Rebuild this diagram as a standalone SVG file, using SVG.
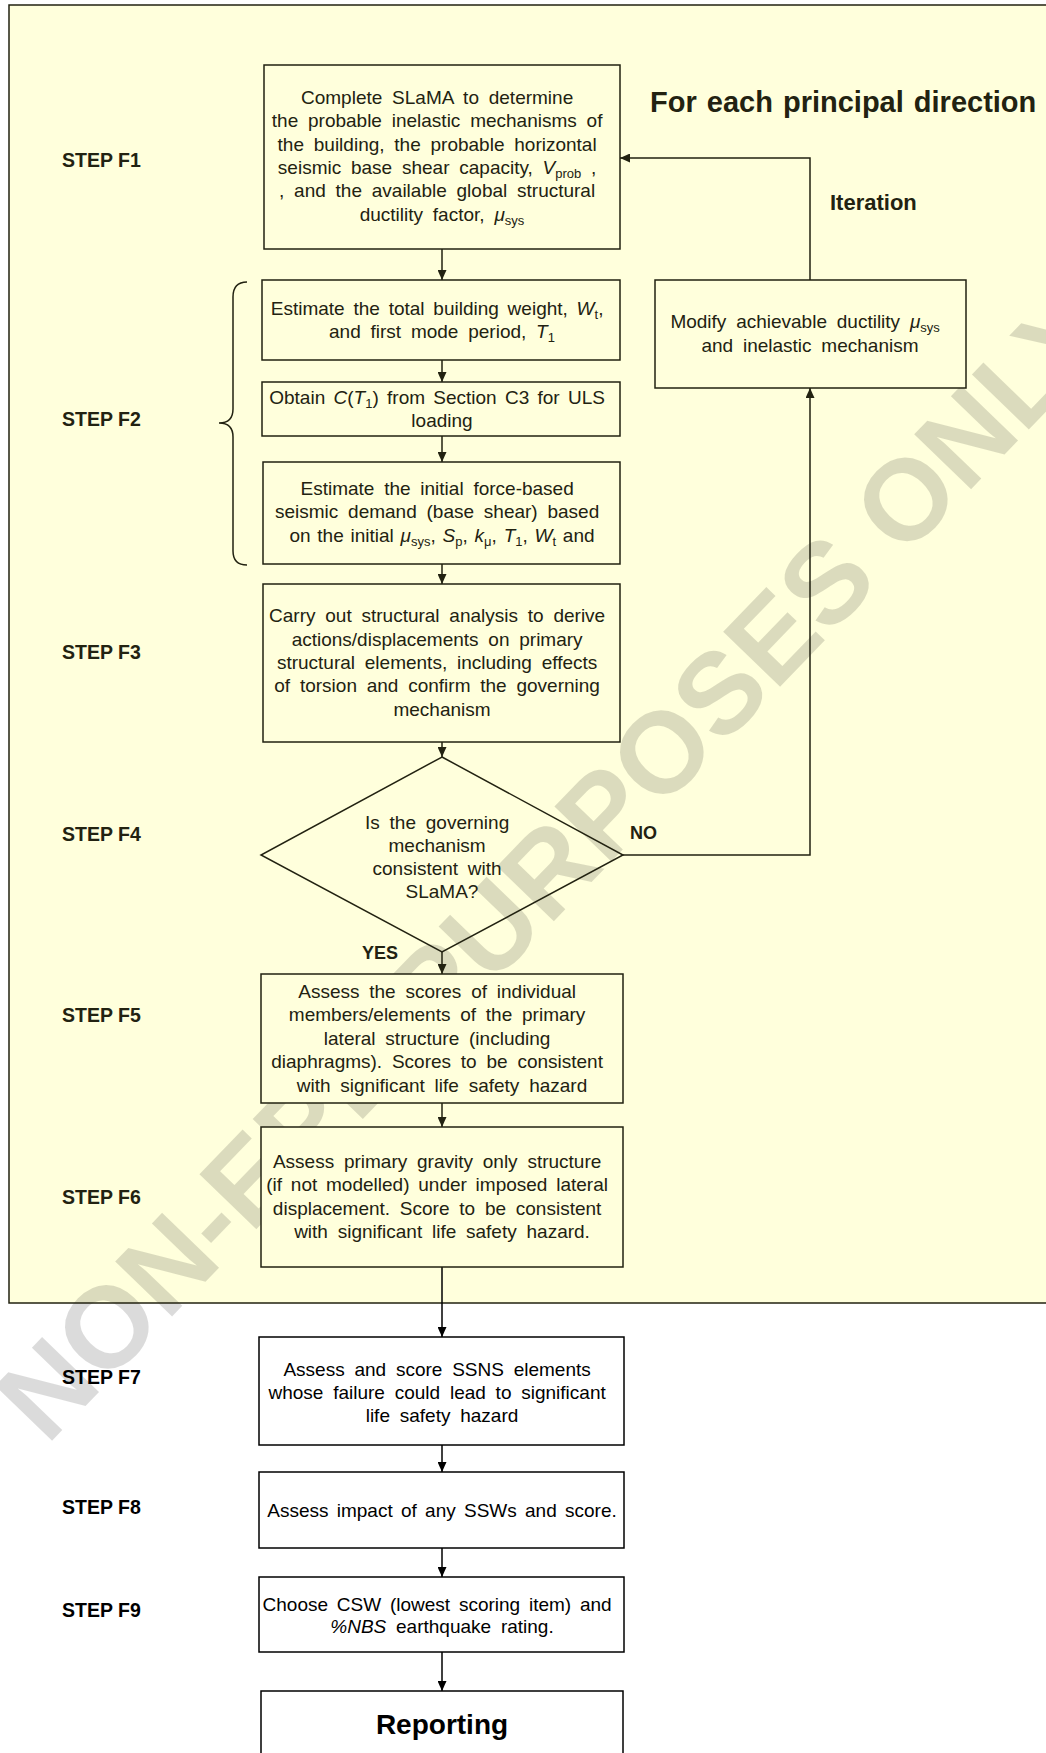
<svg xmlns="http://www.w3.org/2000/svg" width="1046" height="1753" viewBox="0 0 1046 1753">
<defs>
<marker id="ah" markerWidth="10" markerHeight="9" refX="10" refY="4.5" orient="auto" markerUnits="userSpaceOnUse"><path d="M0,0 L10,4.5 L0,9 z" fill="#222211"/></marker>
<marker id="ahk" markerWidth="10" markerHeight="9" refX="10" refY="4.5" orient="auto" markerUnits="userSpaceOnUse"><path d="M0,0 L10,4.5 L0,9 z" fill="#000"/></marker>
</defs>
<style>
.t{font-family:"Liberation Sans",Arial,sans-serif;font-size:19px;fill:#222211;text-anchor:middle;word-spacing:4.5px}
.k{fill:#000}
.s{font-size:13px;word-spacing:0}
.i{font-style:italic}
.lb{font-family:"Liberation Sans",Arial,sans-serif;font-weight:bold;fill:#222211}
.step{font-size:19.5px}
.box{fill:#ffffdc;stroke:#222211;stroke-width:1.5}
.wbox{fill:#fff;stroke:#000;stroke-width:1.5}
.c{fill:none;stroke:#222211;stroke-width:1.5}
.ck{fill:none;stroke:#000;stroke-width:1.5}
</style>
<rect x="0" y="0" width="1046" height="1753" fill="#fff"/>
<rect x="9" y="5" width="1050" height="1298" fill="#ffffdc"/>
<text x="0" y="41" transform="translate(553 863) rotate(-46)" font-family="Liberation Sans, Arial, sans-serif" font-size="115" font-weight="bold" text-anchor="middle" fill="#000" fill-opacity="0.14">NON-EPB PURPOSES ONLY</text>
<rect x="9" y="5" width="1050" height="1298" fill="none" stroke="#222211" stroke-width="1.5"/>

<g id="labels">
<text class="lb" x="650" y="112" font-size="29" word-spacing="2">For each principal direction</text>
<text class="lb" x="830" y="210" font-size="22">Iteration</text>
<text class="lb" x="630" y="839" font-size="18">NO</text>
<text class="lb" x="362" y="959" font-size="18">YES</text>
<text class="lb step" x="62" y="167">STEP F1</text>
<text class="lb step" x="62" y="426">STEP F2</text>
<text class="lb step" x="62" y="659">STEP F3</text>
<text class="lb step" x="62" y="841">STEP F4</text>
<text class="lb step" x="62" y="1022">STEP F5</text>
<text class="lb step" x="62" y="1204">STEP F6</text>
<text class="lb step" x="62" y="1384" style="fill:#000">STEP F7</text>
<text class="lb step" x="62" y="1514" style="fill:#000">STEP F8</text>
<text class="lb step" x="62" y="1617" style="fill:#000">STEP F9</text>
</g>

<g id="connectors">
<path class="c" d="M442,249 V280" marker-end="url(#ah)"/>
<path class="c" d="M442,360 V382" marker-end="url(#ah)"/>
<path class="c" d="M442,436 V462" marker-end="url(#ah)"/>
<path class="c" d="M442,564 V584" marker-end="url(#ah)"/>
<path class="c" d="M442,742 V757" marker-end="url(#ah)"/>
<path class="c" d="M442,952 V974" marker-end="url(#ah)"/>
<path class="c" d="M442,1103 V1127" marker-end="url(#ah)"/>
<path class="ck" d="M442,1267 V1337" marker-end="url(#ahk)"/>
<path class="ck" d="M442,1445 V1472" marker-end="url(#ahk)"/>
<path class="ck" d="M442,1548 V1577" marker-end="url(#ahk)"/>
<path class="ck" d="M442,1652 V1691" marker-end="url(#ahk)"/>
<path class="c" d="M623,855 H810 V388" marker-end="url(#ah)"/>
<path class="c" d="M810,280 V158 H620" marker-end="url(#ah)"/>
<path class="c" d="M247,282 C237,282 233,287 233,297 L233,409 C233,418 228,423 219,423 C228,423 233,428 233,437 L233,551 C233,560 237,565 247,565"/>
</g>

<g id="f1">
<rect class="box" x="264" y="65" width="356" height="184"/>
<text class="t">
<tspan x="442" y="104">Complete SLaMA to determine</tspan>
<tspan x="442" y="127.3">the probable inelastic mechanisms of</tspan>
<tspan x="442" y="150.6">the building, the probable horizontal</tspan>
<tspan x="442" y="174">seismic base shear capacity, <tspan class="i">V</tspan><tspan class="s" dy="4">prob</tspan><tspan dy="-4"> ,</tspan></tspan>
<tspan x="442" y="197.2">, and the available global structural</tspan>
<tspan x="442" y="220.5">ductility factor, <tspan class="i">μ</tspan><tspan class="s" dy="4">sys</tspan></tspan>
</text>
</g>

<g id="f2a">
<rect class="box" x="262" y="280" width="358" height="80"/>
<text class="t">
<tspan x="442" y="315" word-spacing="3.5">Estimate the total building weight, <tspan class="i">W</tspan><tspan class="s" dy="4">t</tspan><tspan dy="-4">,</tspan></tspan>
<tspan x="442" y="338">and first mode period, <tspan class="i">T</tspan><tspan class="s" dy="4">1</tspan></tspan>
</text>
</g>

<g id="f2b">
<rect class="box" x="262" y="382" width="358" height="54"/>
<text class="t">
<tspan x="442" y="404" word-spacing="3">Obtain <tspan class="i">C</tspan>(<tspan class="i">T</tspan><tspan class="s" dy="4">1</tspan><tspan dy="-4">) from Section C3 for ULS</tspan></tspan>
<tspan x="442" y="427">loading</tspan>
</text>
</g>

<g id="f2c">
<rect class="box" x="263" y="462" width="357" height="102"/>
<text class="t">
<tspan x="442" y="495">Estimate the initial force-based</tspan>
<tspan x="442" y="518">seismic demand (base shear) based</tspan>
<tspan x="442" y="542" word-spacing="1.5">on the initial <tspan class="i">μ</tspan><tspan class="s" dy="4">sys</tspan><tspan dy="-4">, </tspan><tspan class="i">S</tspan><tspan class="s" dy="4">p</tspan><tspan dy="-4">, </tspan><tspan class="i">k</tspan><tspan class="s" dy="4">μ</tspan><tspan dy="-4">, </tspan><tspan class="i">T</tspan><tspan class="s" dy="4">1</tspan><tspan dy="-4">, </tspan><tspan class="i">W</tspan><tspan class="s" dy="4">t</tspan><tspan dy="-4"> and</tspan></tspan>
</text>
</g>

<g id="f3">
<rect class="box" x="263" y="584" width="357" height="158"/>
<text class="t">
<tspan x="442" y="622">Carry out structural analysis to derive</tspan>
<tspan x="442" y="646">actions/displacements on primary</tspan>
<tspan x="442" y="669">structural elements, including effects</tspan>
<tspan x="442" y="692">of torsion and confirm the governing</tspan>
<tspan x="442" y="716">mechanism</tspan>
</text>
</g>

<g id="f4">
<path d="M442,757 L623,855 L442,952 L261,855 Z" fill="none" stroke="#222211" stroke-width="1.5"/>
<text class="t">
<tspan x="442" y="829">Is the governing</tspan>
<tspan x="442" y="852">mechanism</tspan>
<tspan x="442" y="875">consistent with</tspan>
<tspan x="442" y="898">SLaMA?</tspan>
</text>
</g>

<g id="modify">
<rect class="box" x="655" y="280" width="311" height="108"/>
<text class="t">
<tspan x="810" y="328">Modify achievable ductility <tspan class="i">μ</tspan><tspan class="s" dy="4">sys</tspan></tspan>
<tspan x="810" y="352">and inelastic mechanism</tspan>
</text>
</g>

<g id="f5">
<rect class="box" x="261" y="974" width="362" height="129"/>
<text class="t">
<tspan x="442" y="998">Assess the scores of individual</tspan>
<tspan x="442" y="1021">members/elements of the primary</tspan>
<tspan x="442" y="1045">lateral structure (including</tspan>
<tspan x="442" y="1068">diaphragms). Scores to be consistent</tspan>
<tspan x="442" y="1092">with significant life safety hazard</tspan>
</text>
</g>

<g id="f6">
<rect class="box" x="261" y="1127" width="362" height="140"/>
<text class="t">
<tspan x="442" y="1168">Assess primary gravity only structure</tspan>
<tspan x="442" y="1191" word-spacing="3.5">(if not modelled) under imposed lateral</tspan>
<tspan x="442" y="1215">displacement. Score to be consistent</tspan>
<tspan x="442" y="1238">with significant life safety hazard.</tspan>
</text>
</g>

<g id="f7">
<rect class="wbox" x="259" y="1337" width="365" height="108"/>
<text class="t k">
<tspan x="442" y="1376">Assess and score SSNS elements</tspan>
<tspan x="442" y="1399">whose failure could lead to significant</tspan>
<tspan x="442" y="1422">life safety hazard</tspan>
</text>
</g>

<g id="f8">
<rect class="wbox" x="259" y="1472" width="365" height="76"/>
<text class="t k"><tspan x="442" y="1517" word-spacing="3">Assess impact of any SSWs and score.</tspan></text>
</g>

<g id="f9">
<rect class="wbox" x="259" y="1577" width="365" height="75"/>
<text class="t k">
<tspan x="442" y="1611" word-spacing="3.5">Choose CSW (lowest scoring item) and</tspan>
<tspan x="442" y="1633"><tspan class="i">%NBS</tspan> earthquake rating.</tspan>
</text>
</g>

<g id="reporting">
<rect class="wbox" x="261" y="1691" width="362" height="80"/>
<text x="442" y="1734" font-family="Liberation Sans, Arial, sans-serif" font-size="28" font-weight="bold" text-anchor="middle" fill="#000">Reporting</text>
</g>
</svg>
